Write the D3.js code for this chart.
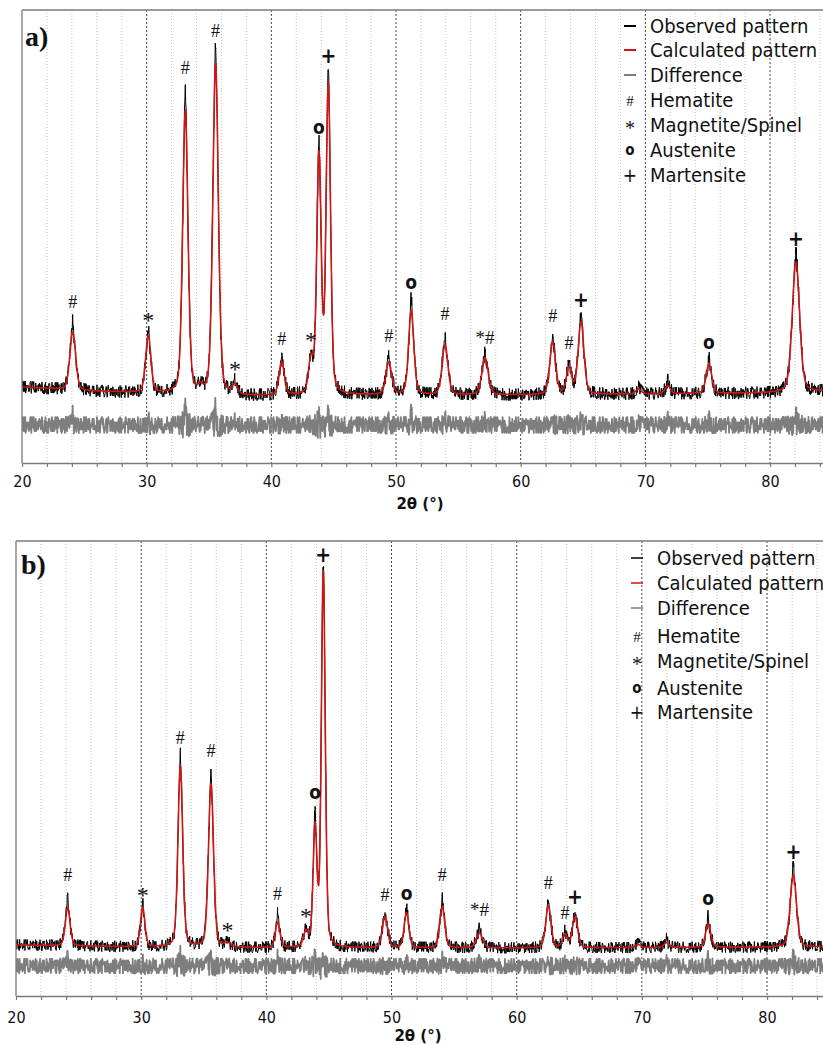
<!DOCTYPE html>
<html><head><meta charset="utf-8">
<script src="https://cdn.jsdelivr.net/npm/d3@7"></script>
<style>body{margin:0;background:#fff} svg{display:block}</style>
</head><body>
<svg id="c" width="823" height="1045"></svg>
<script>
// ---------- DATA ----------
const axisTickLabels = [20, 30, 40, 50, 60, 70, 80];
const legendLabels = ["Observed pattern", "Calculated pattern", "Difference", "Hematite", "Magnetite/Spinel", "Austenite", "Martensite"];
const legendSymbols = ["", "", "", "#", "*", "o", "+"];
const axisTitle = "2θ (°)";

// panel a) background (2θ, intensity a.u.)
const bgA_x = [20, 25, 30, 38, 48, 60, 70, 80, 85];
const bgA_y = [76, 72, 70, 67, 68, 68, 69, 70, 72];
// panel a) reflections: position, calculated height, observed excess at tip, FWHM, phase label
const peaksA_pos    = [24.07, 30.13, 33.10, 34.30, 35.53, 37.08, 40.83, 43.18, 43.82, 44.57, 49.42, 51.22, 53.93, 57.14, 62.57, 63.88, 64.84, 69.45, 71.80, 75.10, 82.08];
const peaksA_calc   = [58, 57, 282, 5, 330, 9, 33, 32, 236, 308, 32, 84, 50, 37, 52, 26, 72, 5, 8, 29, 130];
const peaksA_excess = [12, 5, 25, 2, 15, 4, 5, 4, 10, 11, 8, 14, 12, 5, 8, 5, 7, 2, 7, 8, 8];
const peaksA_fwhm   = [0.55, 0.50, 0.50, 0.40, 0.52, 0.50, 0.50, 0.45, 0.42, 0.42, 0.55, 0.50, 0.55, 0.60, 0.55, 0.50, 0.55, 0.50, 0.50, 0.55, 0.70];
const peaksA_label  = ["#", "*", "#", "", "#", "*", "#", "*", "o", "+", "#", "o", "#", "*#", "#", "#", "+", "", "", "o", "+"];

// panel b)
const bgB_x = [20, 30, 40, 60, 85];
const bgB_y = [51, 49, 48, 48, 49];
const peaksB_pos    = [24.13, 30.12, 33.13, 35.58, 36.90, 40.90, 43.17, 43.89, 44.55, 49.48, 51.20, 54.05, 57.02, 62.53, 63.86, 64.66, 69.70, 71.98, 75.30, 82.10];
const peaksB_calc   = [38, 39, 181, 163, 4, 25, 14, 117, 375, 31, 35, 41, 15, 42, 13, 31, 3, 5, 23, 72];
const peaksB_excess = [15, 3, 10, 15, 2, 10, 4, 16, 0, 4, 6, 14, 8, 5, 3, 4, 1, 4, 12, 8];
const peaksB_fwhm   = [0.45, 0.42, 0.45, 0.48, 0.50, 0.45, 0.45, 0.37, 0.37, 0.50, 0.45, 0.48, 0.60, 0.50, 0.45, 0.50, 0.50, 0.50, 0.50, 0.60];
const peaksB_label  = ["#", "*", "#", "#", "*", "#", "*", "o", "+", "#", "o", "#", "*#", "#", "#", "+", "", "", "o", "+"];

// counting-noise residual sequence (digits 0-9, read forward and backward)
const residualDigits =
"1415926535897932384626433832795028841971693993751" + "0" +
"5820974944592307816406286208998628034825342117067" + "9" +
"8214808651328230664709384460955058223172535940812" + "8" +
"4811174502841027019385211055596446229489549303819" + "6" +
"4428810975665933446128475648233786783165271201909" + "1" +
"4564856692346034861045432664821339360726024914127" + "3" +
"7245870066063155881748815209209628292540917153643" + "6" +
"7892590360011330530548820466521384146951941511609" + "4" +
"3305727036575959195309218611738193261179310511854" + "8" +
"0744623799627495673518857527248912279381830119491" + "2" +
"9833673362440656643086021394946395224737190702179" + "8" +
"6094370277053921717629317675238467481846766940513" + "2" +
"0005681271452635608277857713427577896091736371787" + "2" +
"1468440901224953430146549585371050792279689258923" + "5" +
"4201995611212902196086403441815981362977477130996" + "0" +
"5187072113499999983729780499510597317328160963185" + "9" +
"5024459455346908302642522308253344685035261931188" + "1" +
"7101000313783875288658753320838142061717766914730" + "3" +
"5982534904287554687311595628638823537875937519577" + "8" +
"1857780532171226806613001927876611195909216420198" + "9";

// ---------- LAYOUT ----------
const W = 823, H = 1045;
const RED = "#cf1515", GRAY = "#7e7e7e", FRAME = "#7a7a7a";
const SANS = "'DejaVu Sans Condensed', 'DejaVu Sans', sans-serif";
const SERIF = "'Liberation Serif', 'Times New Roman', serif";
const ETA = 0.3;
const svg = d3.select("#c");

const panels = [
  { id: "a", tag: "a)", left: 22, pxPerDeg: 12.467, top: 10, axisY: 463, yMax: 453,
    bgX: bgA_x, bgY: bgA_y, pos: peaksA_pos, calc: peaksA_calc, excess: peaksA_excess,
    fwhm: peaksA_fwhm, label: peaksA_label, diffOffset: 38, amp: 6, reverse: false,
    tickPad: 9, titleX: 420, titleY: 509, tagX: 25, tagY: 46,
    legX: 650, legSymX: 630, legRows: [33, 57, 82, 107, 132, 157, 182], dashW: 2 },
  { id: "b", tag: "b)", left: 16, pxPerDeg: 12.517, top: 541, axisY: 996, yMax: 455,
    bgX: bgB_x, bgY: bgB_y, pos: peaksB_pos, calc: peaksB_calc, excess: peaksB_excess,
    fwhm: peaksB_fwhm, label: peaksB_label, diffOffset: 30, amp: 5.5, reverse: true,
    tickPad: 12, titleX: 418, titleY: 1041, tagX: 21, tagY: 574,
    legX: 657, legSymX: 637, legRows: [565, 590, 615, 643, 668, 695, 719], dashW: 1.5 }
];

function pv(x, x0, h, w, eta) {
  const t = (x - x0) / w, t2 = 4 * t * t;
  return h * (eta / (1 + t2) + (1 - eta) * Math.exp(-Math.LN2 * t2));
}

panels.forEach(p => {
  const g = svg.append("g");
  const x = d3.scaleLinear().domain([20, 85]).range([p.left, p.left + 65 * p.pxPerDeg]);
  const y = d3.scaleLinear().domain([0, p.yMax]).range([p.axisY, p.top]);
  const bg = d3.scaleLinear().domain(p.bgX).range(p.bgY);

  const clipId = "clip-" + p.id;
  svg.append("clipPath").attr("id", clipId).append("rect")
    .attr("x", p.left).attr("y", p.top).attr("width", W - p.left).attr("height", p.axisY - p.top);

  // grid
  const grid = g.append("g");
  grid.selectAll("line.minor").data(d3.range(22, 86, 2).filter(v => v % 10 !== 0)).join("line")
    .attr("class", "minor")
    .attr("x1", d => x(d)).attr("x2", d => x(d)).attr("y1", p.top).attr("y2", p.axisY)
    .attr("stroke", "#c4c4c4").attr("stroke-width", 1).attr("stroke-dasharray", "1,2");
  grid.selectAll("line.major").data(axisTickLabels.filter(v => v > 20)).join("line")
    .attr("class", "major")
    .attr("x1", d => x(d)).attr("x2", d => x(d)).attr("y1", p.top).attr("y2", p.axisY)
    .attr("stroke", "#444").attr("stroke-width", 1).attr("stroke-dasharray", "2,2");

  const calcAt = v => bg(v) + d3.sum(p.pos, (c, i) => pv(v, c, p.calc[i], p.fwhm[i], ETA));
  const excessAt = v => d3.sum(p.pos, (c, i) => pv(v, c, p.excess[i], 0.09, 0.3));
  const ampAt = v => p.amp * Math.pow(calcAt(v) / bg(v), 0.4);

  // calculated pattern on a fine grid
  const calcPts = d3.range(20, 85.0001, 0.01).map(v => ({ x: v, v: calcAt(v) }));

  // observed & difference at the measurement steps
  const n = residualDigits.length, step = 65 / (2 * n);
  const meas = [];
  for (let k = 0; k < n; k++) {
    const fwd = +residualDigits[k], bwd = +residualDigits[n - 1 - k];
    const a = p.reverse ? bwd : fwd, b = p.reverse ? fwd : bwd;
    meas.push({ x: 20 + (2 * k) * step, r: (a - 4.5) / 4.5 });
    meas.push({ x: 20 + (2 * k + 1) * step, r: (b - 4.5) / 4.5 });
  }
  p.pos.forEach(c => meas.push({ x: c, r: 0 }));
  meas.sort((a, b) => a.x - b.x);
  const obsPts = meas.map(m => ({ x: m.x, v: calcAt(m.x) + excessAt(m.x) + m.r * ampAt(m.x) }));
  const diffPts = meas.map(m => ({ x: m.x, v: p.diffOffset + excessAt(m.x) + 1.3 * m.r * ampAt(m.x) }));

  const line = d3.line().x(d => x(d.x)).y(d => y(d.v));
  const plot = g.append("g").attr("clip-path", `url(#${clipId})`);
  plot.append("path").datum(diffPts).attr("d", line).attr("fill", "none")
    .attr("stroke", GRAY).attr("stroke-width", 1.8).attr("stroke-linejoin", "round");
  plot.append("path").datum(obsPts).attr("d", line).attr("fill", "none")
    .attr("stroke", "#000").attr("stroke-width", 1).attr("stroke-linejoin", "round");
  plot.append("path").datum(calcPts).attr("d", line).attr("fill", "none")
    .attr("stroke", RED).attr("stroke-width", 1.6);

  // phase markers above reflections (baseline offset above observed tip)
  const labelStyle = {
    "#":  { f: SERIF, s: 18, w: "normal", gap: 12 },
    "*":  { f: SERIF, s: 24, w: "normal", gap: 2 },
    "o":  { f: SANS,  s: 19, w: "bold",   gap: 7 },
    "+":  { f: SANS,  s: 21, w: "bold",   gap: 8 },
    "*#": { f: SERIF, s: 19, w: "normal", gap: 9 }
  };
  const lab = p.pos.map((c, i) => ({ c, t: p.label[i], tip: calcAt(c) + excessAt(c) })).filter(d => d.t);
  g.selectAll("text.mark").data(lab).join("text").attr("class", "mark")
    .attr("x", d => x(d.c)).attr("y", d => y(d.tip) - labelStyle[d.t].gap)
    .attr("text-anchor", "middle")
    .attr("font-family", d => labelStyle[d.t].f)
    .attr("font-size", d => labelStyle[d.t].s)
    .attr("font-weight", d => labelStyle[d.t].w)
    .attr("fill", "#111")
    .text(d => d.t);

  // frame (left & top)
  g.append("line").attr("x1", p.left).attr("x2", W).attr("y1", p.top).attr("y2", p.top)
    .attr("stroke", FRAME).attr("stroke-width", 1.3);
  g.append("line").attr("x1", p.left).attr("x2", p.left).attr("y1", p.top).attr("y2", p.axisY)
    .attr("stroke", FRAME).attr("stroke-width", 1.3);

  // x axis
  const axis = d3.axisBottom(x).tickValues(d3.range(20, 86, 2)).tickSize(4).tickSizeOuter(0)
    .tickPadding(p.tickPad).tickFormat(d => axisTickLabels.includes(d) ? d : "");
  const ax = g.append("g").attr("transform", `translate(0,${p.axisY})`).call(axis);
  ax.select(".domain").attr("stroke", FRAME).attr("stroke-width", 1.3);
  ax.selectAll(".tick line").attr("stroke", FRAME).attr("stroke-width", 1.2);
  ax.selectAll(".tick text").attr("font-family", SANS).attr("font-size", 16).attr("fill", "#111");
  g.append("text").attr("x", p.titleX).attr("y", p.titleY).attr("text-anchor", "middle")
    .attr("font-family", "'DejaVu Sans', sans-serif").attr("font-weight", "bold").attr("font-size", 15)
    .attr("fill", "#111").text(axisTitle);

  // panel tag
  g.append("text").attr("x", p.tagX).attr("y", p.tagY).attr("font-family", SERIF)
    .attr("font-weight", "bold").attr("font-size", 28).attr("fill", "#111").text(p.tag);

  // legend
  const leg = g.append("g");
  const dashColors = ["#000", RED, GRAY];
  const symStyle = { "#": [SERIF, 15, "normal", -1], "*": [SERIF, 20, "normal", 3], "o": [SANS, 15, "bold", -2], "+": [SANS, 19, "normal", 0] };
  legendLabels.forEach((t, i) => {
    const by = p.legRows[i];
    if (i < 3) {
      leg.append("line").attr("x1", p.legSymX - 6).attr("x2", p.legSymX + 6)
        .attr("y1", by - 7).attr("y2", by - 7).attr("stroke", dashColors[i]).attr("stroke-width", p.dashW);
    } else {
      const st = symStyle[legendSymbols[i]];
      leg.append("text").attr("x", p.legSymX).attr("y", by + st[3]).attr("text-anchor", "middle")
        .attr("font-family", st[0]).attr("font-size", st[1]).attr("font-weight", st[2]).attr("fill", "#111")
        .text(legendSymbols[i]);
    }
    leg.append("text").attr("x", p.legX).attr("y", by).attr("font-family", SANS)
      .attr("font-size", 20).attr("fill", "#111").text(t);
  });
});
</script>
</body></html>
